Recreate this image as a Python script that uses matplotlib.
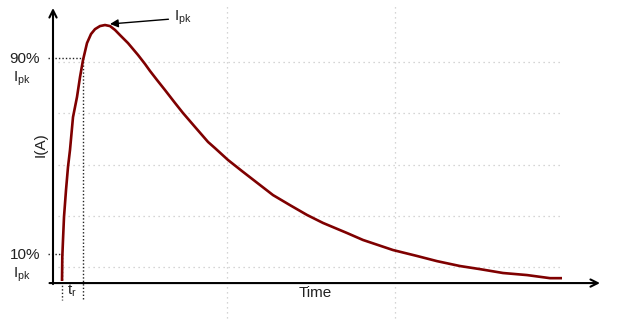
import matplotlib
matplotlib.use("Agg")
import matplotlib.pyplot as plt

plt.rcParams['font.family'] = ['Liberation Sans', 'DejaVu Sans']
plt.rcParams['mathtext.fontset'] = 'custom'
plt.rcParams['mathtext.rm'] = 'Liberation Sans'
plt.rcParams['mathtext.it'] = 'Liberation Sans'

# Pulse waveform (time in arbitrary units, current normalised to peak)
time = [0.0, 0.06, 0.2, 0.4, 0.8, 1.2, 1.6, 2.2, 3.0, 3.6, 4.2, 5.0, 5.8, 6.6,
        7.6, 8.6, 9.6, 10.6, 11.6, 13.2, 15.2, 16.6, 17.6, 19.0, 20.6, 22.6,
        24.2, 26.6, 29.2, 30.6, 33.2, 36.0, 38.6, 39.6, 42.2, 45.6, 49.0,
        52.2, 57.0, 60.2, 66.2, 71.0, 75.0, 79.6, 83.6, 88.2, 93.0, 97.6,
        100.0]
current = [0.008, 0.101, 0.167, 0.256, 0.360, 0.450, 0.516, 0.643, 0.721,
           0.798, 0.864, 0.930, 0.965, 0.984, 0.996, 1.000, 0.996, 0.981,
           0.961, 0.930, 0.884, 0.849, 0.822, 0.787, 0.748, 0.698, 0.659,
           0.605, 0.547, 0.523, 0.477, 0.434, 0.395, 0.380, 0.341, 0.302,
           0.264, 0.233, 0.194, 0.167, 0.128, 0.105, 0.085, 0.066, 0.054,
           0.039, 0.031, 0.019, 0.019]

level_labels = ["90%", "10%"]
levels = [0.872, 0.112]
t10, t90 = 0.0, 4.2
peak_t, peak_i = 9.6, 1.004

fig = plt.figure(figsize=(6.32, 3.29), dpi=100)
ax = fig.add_axes([0, 0, 1, 1])
ax.set_xlim(-12.4, 114.0)
ax.set_ylim(-0.178, 1.097)
ax.axis('off')

grid_kw = dict(color='#c8c8c8', lw=0.9, linestyle=(0, (1, 3)), zorder=1)
for gy in [0.857, 0.659, 0.457, 0.260, 0.062]:
    ax.plot([-0.8, 99.6], [gy, gy], **grid_kw)
for gx in [33.0, 66.6]:
    ax.plot([gx, gx], [-0.136, 1.085], **grid_kw)

# reference dotted lines
dk = dict(color='#222222', lw=1.0, linestyle=(0, (1, 1.5)), zorder=2)
ax.plot([-2.8, t90], [levels[0], levels[0]], **dk)
ax.plot([-2.8, t10], [levels[1], levels[1]], **dk)
ax.plot([t10, t10], [levels[1], -0.066], **dk)
ax.plot([t90, t90], [levels[0], -0.066], **dk)

# curve
ax.plot(time, current, color='#7f0000', lw=1.9, zorder=4,
        solid_capstyle='butt', solid_joinstyle='round')

# axes with arrows
ax.annotate('', xy=(-1.8, 1.066), xytext=(-1.8, -0.004),
            arrowprops=dict(arrowstyle='->', lw=1.5, color='black',
                            mutation_scale=13, shrinkA=0, shrinkB=0), zorder=5)
ax.annotate('', xy=(107.6, 0.0), xytext=(-2.5, 0.0),
            arrowprops=dict(arrowstyle='->', lw=1.5, color='black',
                            mutation_scale=13, shrinkA=0, shrinkB=0), zorder=5)

fs = 11
tc = '#222222'
ax.text(-4.4, 0.868, level_labels[0], ha='right', va='center', fontsize=fs, color=tc)
ax.text(-8.0, 0.79, r'I$_{\mathrm{pk}}$', ha='center', va='center', fontsize=fs, color=tc)
ax.text(-4.4, 0.108, level_labels[1], ha='right', va='center', fontsize=fs, color=tc)
ax.text(-8.0, 0.03, r'I$_{\mathrm{pk}}$', ha='center', va='center', fontsize=fs, color=tc)
ax.text(-4.2, 0.535, 'I(A)', ha='center', va='center', rotation=90, fontsize=fs, color=tc)
ax.text(50.6, -0.039, 'Time', ha='center', va='center', fontsize=fs, color=tc)
ax.text(2.0, -0.03, r't$_{\mathrm{r}}$', ha='center', va='center', fontsize=fs, color=tc)

ax.annotate(r'I$_{\mathrm{pk}}$', xy=(peak_t, peak_i), xytext=(22.4, 1.027),
            ha='left', va='center', fontsize=fs, color=tc,
            arrowprops=dict(arrowstyle='-|>', lw=1.0, color='black',
                            mutation_scale=12, shrinkA=2, shrinkB=0))

fig.savefig('out.png', dpi=100)
